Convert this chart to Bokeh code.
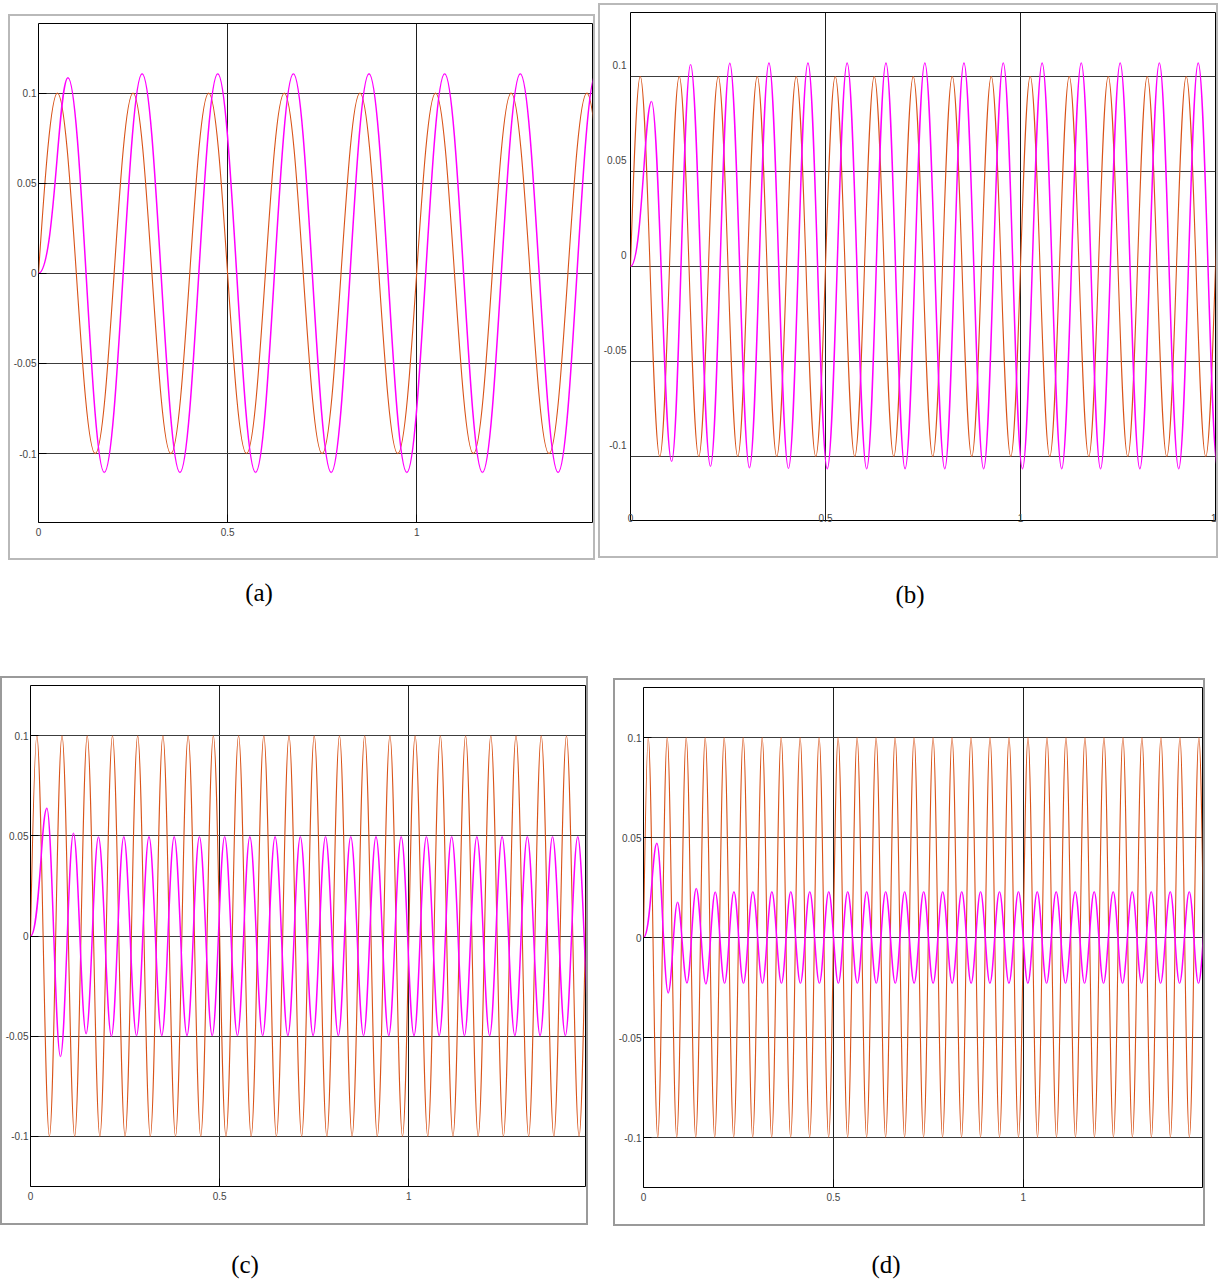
from bokeh.plotting import figure
from bokeh.models import Range1d, FixedTicker, Div, ColumnDataSource
from bokeh.layouts import column, row
from bokeh.embed import file_html
from bokeh.resources import INLINE

# ---------------- data: extrema (time, value) ----------------
# panel (a)
A_IN_T = [0.05, 0.15, 0.25, 0.35, 0.45, 0.55, 0.65, 0.75, 0.85, 0.95, 1.05, 1.15, 1.25, 1.35, 1.45, 1.55]
A_IN_V = [0.1, -0.1, 0.1, -0.1, 0.1, -0.1, 0.1, -0.1, 0.1, -0.1, 0.1, -0.1, 0.1, -0.1, 0.1, -0.1]
A_OUT_T = [0.078, 0.174, 0.274, 0.374, 0.474, 0.574, 0.674, 0.774, 0.874, 0.974, 1.074, 1.174, 1.274, 1.374, 1.474, 1.574]
A_OUT_V = [0.1085, -0.1104, 0.1107, -0.1104, 0.1107, -0.1104, 0.1107, -0.1104,
           0.1107, -0.1104, 0.1107, -0.1104, 0.1107, -0.1104, 0.1107, -0.1104]

# panel (b)
B_IN_T = [0.025, 0.075, 0.125, 0.175, 0.225, 0.275, 0.325, 0.375, 0.425, 0.475,
          0.525, 0.575, 0.625, 0.675, 0.725, 0.775, 0.825, 0.875, 0.925, 0.975,
          1.025, 1.075, 1.125, 1.175, 1.225, 1.275, 1.325, 1.375, 1.425, 1.475, 1.525]
B_IN_V = [0.1, -0.1, 0.1, -0.1, 0.1, -0.1, 0.1, -0.1, 0.1, -0.1,
          0.1, -0.1, 0.1, -0.1, 0.1, -0.1, 0.1, -0.1, 0.1, -0.1,
          0.1, -0.1, 0.1, -0.1, 0.1, -0.1, 0.1, -0.1, 0.1, -0.1, 0.1]
B_OUT_T = [0.054, 0.1055, 0.154, 0.205, 0.2546, 0.305, 0.355, 0.405, 0.455, 0.5045,
           0.5555, 0.6055, 0.655, 0.704, 0.7547, 0.8058, 0.855, 0.9054, 0.9558, 1.005,
           1.0555, 1.1056, 1.1558, 1.2052, 1.2556, 1.306, 1.356, 1.4056, 1.4557, 1.5057]
B_OUT_V = [0.0868, -0.1026, 0.1062, -0.105, 0.1069, -0.1058, 0.107, -0.1062, 0.107, -0.1064,
           0.107, -0.1064, 0.107, -0.1064, 0.107, -0.1064, 0.107, -0.1064, 0.107, -0.1064,
           0.107, -0.1064, 0.107, -0.1064, 0.107, -0.1064, 0.107, -0.1064, 0.107, -0.1064]

# panel (c)
C_IN_T = [0.0167, 0.05, 0.0833, 0.1167, 0.15, 0.1833, 0.2167, 0.25, 0.2833, 0.3167,
          0.35, 0.3833, 0.4167, 0.45, 0.4833, 0.5167, 0.55, 0.5833, 0.6167, 0.65,
          0.6833, 0.7167, 0.75, 0.7833, 0.8167, 0.85, 0.8833, 0.9167, 0.95, 0.9833,
          1.0167, 1.05, 1.0833, 1.1167, 1.15, 1.1833, 1.2167, 1.25, 1.2833, 1.3167,
          1.35, 1.3833, 1.4167, 1.45, 1.4833, 1.5167]
C_IN_V = [0.1, -0.1, 0.1, -0.1, 0.1, -0.1, 0.1, -0.1, 0.1, -0.1,
          0.1, -0.1, 0.1, -0.1, 0.1, -0.1, 0.1, -0.1, 0.1, -0.1,
          0.1, -0.1, 0.1, -0.1, 0.1, -0.1, 0.1, -0.1, 0.1, -0.1,
          0.1, -0.1, 0.1, -0.1, 0.1, -0.1, 0.1, -0.1, 0.1, -0.1,
          0.1, -0.1, 0.1, -0.1, 0.1, -0.1]
C_OUT_T = [0.0433, 0.0792, 0.1135, 0.147, 0.1796, 0.2139, 0.2466, 0.2803, 0.3132, 0.347,
           0.3798, 0.4137, 0.4465, 0.4803, 0.5132, 0.547, 0.5798, 0.6137, 0.6465, 0.6803,
           0.7132, 0.747, 0.7798, 0.8137, 0.8465, 0.8803, 0.9132, 0.947, 0.9798, 1.0137,
           1.0465, 1.0803, 1.1132, 1.147, 1.1798, 1.2137, 1.2465, 1.2803, 1.3132, 1.347,
           1.3798, 1.4137, 1.4465, 1.4803]
C_OUT_V = [0.0638, -0.0601, 0.0513, -0.0487, 0.0495, -0.0499, 0.0496, -0.0496, 0.0496, -0.0496,
           0.0496, -0.0496, 0.0496, -0.0496, 0.0496, -0.0496, 0.0496, -0.0496, 0.0496, -0.0496,
           0.0496, -0.0496, 0.0496, -0.0496, 0.0496, -0.0496, 0.0496, -0.0496, 0.0496, -0.0496,
           0.0496, -0.0496, 0.0496, -0.0496, 0.0496, -0.0496, 0.0496, -0.0496, 0.0496, -0.0496,
           0.0496, -0.0496, 0.0496, -0.0496]

# panel (d)
D_IN_T = [0.0125, 0.0375, 0.0625, 0.0875, 0.1125, 0.1375, 0.1625, 0.1875, 0.2125, 0.2375,
          0.2625, 0.2875, 0.3125, 0.3375, 0.3625, 0.3875, 0.4125, 0.4375, 0.4625, 0.4875,
          0.5125, 0.5375, 0.5625, 0.5875, 0.6125, 0.6375, 0.6625, 0.6875, 0.7125, 0.7375,
          0.7625, 0.7875, 0.8125, 0.8375, 0.8625, 0.8875, 0.9125, 0.9375, 0.9625, 0.9875,
          1.0125, 1.0375, 1.0625, 1.0875, 1.1125, 1.1375, 1.1625, 1.1875, 1.2125, 1.2375,
          1.2625, 1.2875, 1.3125, 1.3375, 1.3625, 1.3875, 1.4125, 1.4375, 1.4625, 1.4875, 1.5125]
D_IN_V = [0.1, -0.1, 0.1, -0.1, 0.1, -0.1, 0.1, -0.1, 0.1, -0.1,
          0.1, -0.1, 0.1, -0.1, 0.1, -0.1, 0.1, -0.1, 0.1, -0.1,
          0.1, -0.1, 0.1, -0.1, 0.1, -0.1, 0.1, -0.1, 0.1, -0.1,
          0.1, -0.1, 0.1, -0.1, 0.1, -0.1, 0.1, -0.1, 0.1, -0.1,
          0.1, -0.1, 0.1, -0.1, 0.1, -0.1, 0.1, -0.1, 0.1, -0.1,
          0.1, -0.1, 0.1, -0.1, 0.1, -0.1, 0.1, -0.1, 0.1, -0.1, 0.1]
D_OUT_T = [0.0353, 0.0651, 0.0896, 0.1144, 0.1389, 0.1643, 0.1889, 0.2134, 0.2381, 0.2632,
           0.2879, 0.3132, 0.338, 0.3632, 0.3878, 0.4132, 0.4378, 0.4632, 0.4878, 0.5131,
           0.5377, 0.5631, 0.5877, 0.613, 0.6377, 0.663, 0.6877, 0.7126, 0.7378, 0.7626,
           0.7879, 0.8127, 0.838, 0.8627, 0.8875, 0.9122, 0.9374, 0.9623, 0.9874, 1.0121,
           1.0368, 1.0613, 1.0867, 1.1112, 1.1368, 1.1613, 1.1868, 1.2113, 1.2369, 1.2614,
           1.287, 1.3115, 1.337, 1.3615, 1.3871, 1.4116, 1.4372, 1.4614, 1.487]
D_OUT_V = [0.0471, -0.0277, 0.0176, -0.0227, 0.0245, -0.0232, 0.0228, -0.0229, 0.0229, -0.0229,
           0.0229, -0.0229, 0.0229, -0.0229, 0.0229, -0.0229, 0.0229, -0.0229, 0.0229, -0.0229,
           0.0229, -0.0229, 0.0229, -0.0229, 0.0229, -0.0229, 0.0229, -0.0229, 0.0229, -0.0229,
           0.0229, -0.0229, 0.0229, -0.0229, 0.0229, -0.0229, 0.0229, -0.0229, 0.0229, -0.0229,
           0.0229, -0.0229, 0.0229, -0.0229, 0.0229, -0.0229, 0.0229, -0.0229, 0.0229, -0.0229,
           0.0229, -0.0229, 0.0229, -0.0229, 0.0229, -0.0229, 0.0229, -0.0229, 0.0229]

X_TICKS = [0, 0.5, 1]
X_LABELS = ["0", "0.5", "1"]
Y_TICKS = [-0.1, -0.05, 0, 0.05, 0.1]
Y_LABELS = ["-0.1", "-0.05", "0", "0.05", "0.1"]
CAPTIONS = ["(a)", "(b)", "(c)", "(d)"]

ORANGE = "#D95319"
MAGENTA = "#FF00FF"


def bezier_source(ts, vs, first):
    tt = [0.0] + list(ts)
    vv = [0.0] + list(vs)
    d = dict(x0=[], y0=[], x1=[], y1=[], cx0=[], cy0=[], cx1=[], cy1=[])
    for i in range(len(tt) - 1):
        ta, va, tb, vb = tt[i], vv[i], tt[i + 1], vv[i + 1]
        dt = tb - ta
        if i == 0 and first == "sine":
            c = (ta + 0.33 * dt, va + 0.52 * (vb - va), ta + 0.66 * dt, vb)
        elif i == 0:
            c = (ta + 0.55 * dt, va, tb - 0.33 * dt, vb)
        else:
            c = (ta + 0.364 * dt, va, tb - 0.364 * dt, vb)
        d["x0"].append(ta); d["y0"].append(va)
        d["x1"].append(tb); d["y1"].append(vb)
        d["cx0"].append(c[0]); d["cy0"].append(c[1])
        d["cx1"].append(c[2]); d["cy1"].append(c[3])
    return ColumnDataSource(d)


def panel(w, h, mbl, mbr, mbt, mbb, xmax, ymin, ymax, in_t, in_v, out_t, out_v,
          outline_color, margin, x_standoff=5, y_standoff=2, y_label_shift=0.0,
          x_ticks=None, x_labels=None, ticks_in=8):
    p = figure(width=w, height=h, x_range=Range1d(0, xmax), y_range=Range1d(ymin, ymax),
               toolbar_location=None, output_backend="svg",
               min_border_left=mbl, min_border_right=mbr, min_border_top=mbt, min_border_bottom=mbb,
               background_fill_color="white", border_fill_color="white",
               styles={"outline": "2px solid " + outline_color}, margin=margin)
    p.outline_line_color = "black"
    p.outline_line_width = 1
    p.outline_line_alpha = 1

    xt = x_ticks if x_ticks is not None else X_TICKS
    xl = x_labels if x_labels is not None else X_LABELS
    p.xaxis.ticker = FixedTicker(ticks=xt)
    p.xaxis.major_label_overrides = {t: l for t, l in zip(xt, xl)}
    yt = [round(t + y_label_shift, 5) for t in Y_TICKS]
    p.yaxis.ticker = FixedTicker(ticks=yt)
    p.yaxis.major_label_overrides = {t: l for t, l in zip(yt, Y_LABELS)}

    p.xgrid.ticker = FixedTicker(ticks=[0.5, 1.0])
    p.ygrid.ticker = FixedTicker(ticks=Y_TICKS)
    p.xgrid.grid_line_color = "#1e1e1e"
    p.ygrid.grid_line_color = "#3c3c3c"
    p.xgrid.grid_line_width = 1
    p.ygrid.grid_line_width = 1

    for ax in (p.xaxis[0], p.yaxis[0]):
        ax.axis_line_color = None
        ax.minor_tick_line_color = None
        ax.major_tick_out = 0
        ax.major_tick_in = ticks_in
        ax.major_tick_line_color = "black" if ticks_in else None
        ax.major_label_text_font = "Liberation Sans"
        ax.major_label_text_font_size = "10px"
        ax.major_label_text_color = "#444444"
    p.yaxis.major_label_standoff = y_standoff
    p.xaxis.major_label_standoff = x_standoff

    p.bezier(x0="x0", y0="y0", x1="x1", y1="y1", cx0="cx0", cy0="cy0", cx1="cx1", cy1="cy1",
             source=bezier_source(in_t, in_v, "sine"), line_color=ORANGE, line_width=1.1)
    p.bezier(x0="x0", y0="y0", x1="x1", y1="y1", cx0="cx0", cy0="cy0", cx1="cx1", cy1="cy1",
             source=bezier_source(out_t, out_v, "flat"), line_color=MAGENTA, line_width=1.5)
    return p


fa = panel(583, 542, 27, 1, 6, 36, 1.465, -0.1382, 0.1386, A_IN_T, A_IN_V, A_OUT_T, A_OUT_V,
           "#b9b9b9", (8, 0, 0, 2))
fb = panel(616, 551, 30, 1, 7, 36, 1.5, -0.1336, 0.1336, B_IN_T, B_IN_V, B_OUT_T, B_OUT_V,
           "#b9b9b9", (-3, 0, 0, 7), x_standoff=-7, y_standoff=4, y_label_shift=0.006,
           x_ticks=[0, 0.5, 1, 1.5], x_labels=["0", "0.5", "1", "1"], ticks_in=0)
fc = panel(584, 545, 27, 1, 7, 37, 1.467, -0.125, 0.1251, C_IN_T, C_IN_V, C_OUT_T, C_OUT_V,
           "#9a9a9a", (0, 0, 0, -6))
fd = panel(588, 544, 28, 1, 6, 36, 1.472, -0.125, 0.125, D_IN_T, D_IN_V, D_OUT_T, D_OUT_V,
           "#9a9a9a", (2, 0, 0, 29))


def caption_div(items, w, h):
    spans = "".join(
        '<span style="position:absolute;left:%dpx;top:%dpx;transform:translate(-50%%,-50%%);'
        'white-space:nowrap;">%s</span>' % (x, y, t) for t, x, y in items)
    html = ('<div style="position:relative;width:%dpx;height:%dpx;'
            'font-family:\'Liberation Serif\',serif;font-size:25px;color:#000;">%s</div>' % (w, h, spans))
    return Div(text=html, width=w, height=h, margin=(0, 0, 0, 0))


cap1 = caption_div([(CAPTIONS[0], 251, 35), (CAPTIONS[1], 902, 37)], 1205, 120)
cap2 = caption_div([(CAPTIONS[2], 237, 41), (CAPTIONS[3], 878, 41)], 1205, 45)

root = column(row(fa, fb, margin=(0, 0, 0, 0)), cap1, row(fc, fd, margin=(0, 0, 0, 0)), cap2,
              margin=(8, 0, 0, 8))

open("out.html", "w").write(file_html(root, INLINE))
